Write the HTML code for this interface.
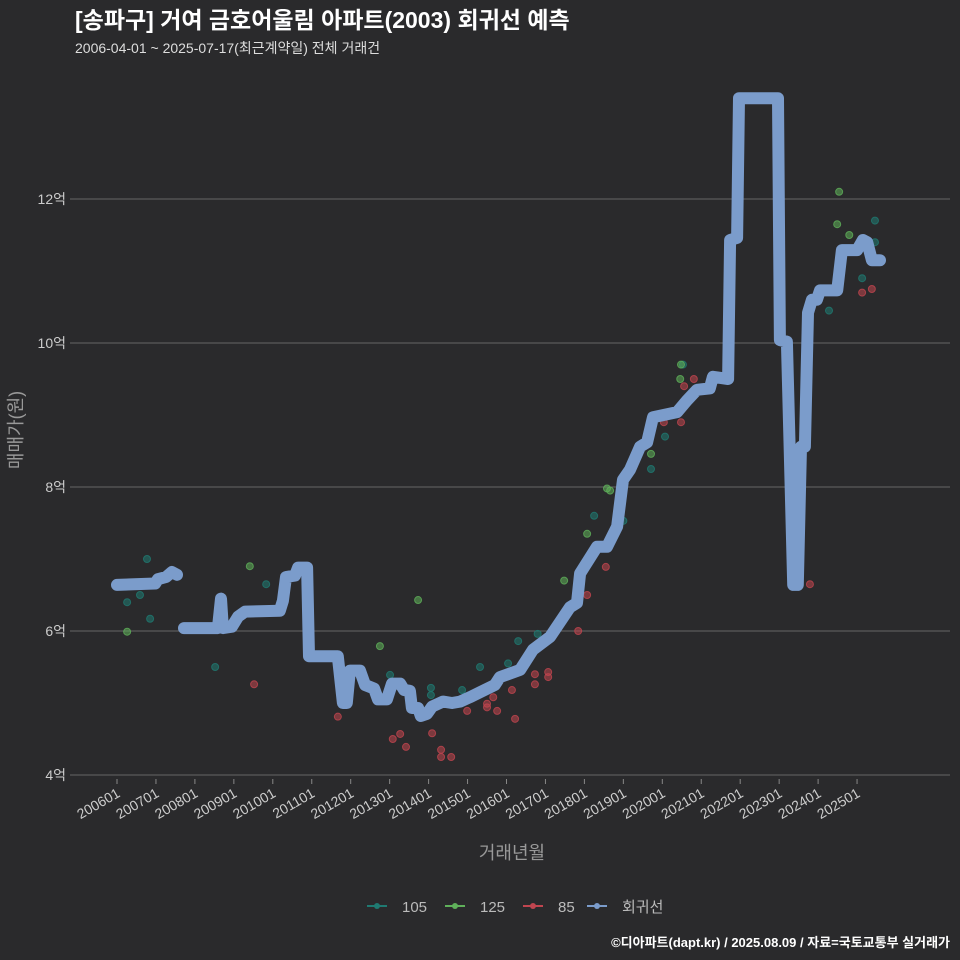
<!DOCTYPE html>
<html><head><meta charset="utf-8"><style>
body{margin:0;background:#2a2a2c;}
svg{display:block;font-family:"Liberation Sans","Noto Sans CJK KR",sans-serif;}
</style></head><body>
<svg width="960" height="960" viewBox="0 0 960 960">
<rect width="960" height="960" fill="#2a2a2c"/>
<text x="75" y="28" fill="#fff" font-size="23" font-weight="bold">[송파구] 거여 금호어울림 아파트(2003) 회귀선 예측</text>
<text x="75" y="53" fill="#ddd" font-size="14">2006-04-01 ~ 2025-07-17(최근계약일) 전체 거래건</text>
<g id="grid"></g><g id="yt"></g><g id="xt"></g><g id="dots"></g><g id="line"></g>
<text transform="translate(22,430) rotate(-90)" text-anchor="middle" fill="#999" font-size="18">매매가(원)</text>
<text x="512" y="859" text-anchor="middle" fill="#999" font-size="18">거래년월</text>
<g id="legend"></g>
<text x="950" y="947" text-anchor="end" fill="#fff" font-size="13" font-weight="bold">©디아파트(dapt.kr) / 2025.08.09 / 자료=국토교통부 실거래가</text>
</svg>
<script>
const yTicks=[4,6,8,10,12];
const xTickLabels=["200601","200701","200801","200901","201001","201101","201201","201301","201401","201501","201601","201701","201801","201901","202001","202101","202201","202301","202401","202501"];
const lineYears=[2006.0,2006.98,2007.05,2007.26,2007.41,2007.54,null,2007.72,2008.59,2008.67,2008.72,2008.95,2009.11,2009.29,2010.18,2010.26,2010.34,2010.57,2010.65,2010.88,2010.93,2011.67,2011.8,2011.9,2011.98,2012.24,2012.37,2012.6,2012.7,2012.93,2013.06,2013.27,2013.37,2013.52,2013.57,2013.73,2013.8,2013.96,2014.09,2014.37,2014.6,2014.81,2015.06,2015.32,2015.7,2015.83,2016.35,2016.68,2017.12,2017.63,2017.81,2017.89,2018.32,2018.58,2018.84,2018.99,2019.17,2019.43,2019.61,2019.76,2020.38,2020.63,2020.89,2021.22,2021.3,2021.69,2021.74,2021.92,2021.97,2022.97,2023.02,2023.2,2023.36,2023.48,2023.56,2023.66,2023.74,2023.84,2023.97,2024.05,2024.49,2024.61,2025.0,2025.15,2025.26,2025.38,2025.59];
const lineValues=[6.64,6.66,6.72,6.75,6.82,6.78,null,6.04,6.04,6.45,6.04,6.06,6.2,6.27,6.28,6.42,6.75,6.77,6.88,6.88,5.65,5.65,5.0,5.0,5.45,5.45,5.25,5.2,5.05,5.05,5.27,5.27,5.18,5.17,4.93,4.93,4.82,4.85,4.95,5.02,5.0,5.02,5.08,5.15,5.25,5.36,5.46,5.74,5.92,6.33,6.39,6.8,7.17,7.17,7.45,8.1,8.24,8.56,8.62,8.97,9.04,9.2,9.35,9.37,9.53,9.5,11.43,11.46,13.4,13.4,10.04,10.02,6.64,6.64,8.56,8.56,10.42,10.6,10.6,10.73,10.73,11.29,11.29,11.43,11.4,11.15,11.15];
const s105Years=[2006.26,2006.59,2006.77,2006.85,2008.52,2009.83,2013.01,2014.06,2014.06,2015.32,2014.86,2016.04,2016.3,2016.8,2017.63,2018.25,2018.58,2019.71,2020.07,2020.53,2024.28,2025.13,2025.46,2025.46,2019.0];
const s105Values=[6.4,6.5,7.0,6.17,5.5,6.65,5.39,5.21,5.11,5.5,5.18,5.55,5.86,5.96,6.31,7.6,7.22,8.25,8.7,9.7,10.45,10.9,11.7,11.4,7.53];
const s125Years=[2006.26,2009.41,2012.75,2013.73,2017.48,2018.07,2018.58,2018.66,2019.71,2020.46,2020.48,2024.49,2024.54,2024.8];
const s125Values=[5.99,6.9,5.79,6.43,6.7,7.35,7.98,7.95,8.46,9.5,9.7,11.65,12.1,11.5];
const s85Years=[2009.52,2011.67,2013.08,2013.27,2013.42,2014.09,2014.32,2014.32,2014.58,2014.99,2015.5,2015.5,2015.76,2015.66,2016.14,2016.22,2016.73,2016.73,2017.07,2017.07,2017.84,2018.07,2018.55,2020.04,2020.48,2020.56,2020.81,2023.79,2025.13,2025.38];
const s85Values=[5.26,4.81,4.5,4.57,4.39,4.58,4.35,4.25,4.25,4.89,4.99,4.94,4.89,5.08,5.18,4.78,5.4,5.26,5.43,5.36,6.0,6.5,6.89,8.9,8.9,9.4,9.5,6.65,10.7,10.75];
const NS="http://www.w3.org/2000/svg";
const xS=y=>117+(y-2006)*38.95;
const yS=v=>775-(v-4)*72;
function mk(t,a,p){const e=document.createElementNS(NS,t);for(const k in a)e.setAttribute(k,a[k]);p.appendChild(e);return e;}
const grid=document.getElementById('grid'),yt=document.getElementById('yt'),xt=document.getElementById('xt');
yTicks.forEach(v=>{
 const l=mk('line',{x1:70,x2:950,y1:yS(v),y2:yS(v),stroke:'#666','stroke-width':1},grid);
 
 
 const t=mk('text',{x:66,y:yS(v)+5,'text-anchor':'end',fill:'#ccc','font-size':14},yt);
 t.textContent=v+'억';
 
 
});
xTickLabels.forEach((lab,i)=>{
 const x=xS(2006+i);
 const tk=mk('line',{x1:x,x2:x,y1:779,y2:784,stroke:'#888'},xt);
 
 
 const t=mk('text',{x:x+4,y:796,'text-anchor':'end',fill:'#ccc','font-size':14,transform:`rotate(-30 ${x+4} 796)`},xt);
 t.textContent=lab;
 
 
});
const dots=document.getElementById('dots');
function scat(ys,vs,c,name){ys.forEach((y,i)=>{
 const d=mk('circle',{cx:xS(y),cy:yS(vs[i]),r:3.5,fill:c,'fill-opacity':0.55,stroke:c,'stroke-opacity':0.8},dots);
 
 
});}
scat(s105Years,s105Values,'#1f7a72','point-105');
scat(s125Years,s125Values,'#5fb05a','point-125');
scat(s85Years,s85Values,'#c0454f','point-85');
let d='',pen=false;
lineYears.forEach((y,i)=>{if(y===null){pen=false;return;}d+=(pen?'L':'M')+xS(y).toFixed(1)+','+yS(lineValues[i]).toFixed(1);pen=true;});
const ln=mk('path',{d:d,fill:'none',stroke:'#7b9ccb','stroke-width':12,'stroke-linejoin':'round','stroke-linecap':'round'},document.getElementById('line'));


const leg=document.getElementById('legend');
[['105','#1f7a72',367],['125','#5fb05a',445],['85','#c0454f',523],['회귀선','#7b9ccb',587]].forEach(e=>{
 const g=mk('g',{},leg);
 
 
 mk('line',{x1:e[2],x2:e[2]+20,y1:906,y2:906,stroke:e[1],'stroke-width':2},g);
 mk('circle',{cx:e[2]+10,cy:906,r:3,fill:e[1]},g);
 const t=mk('text',{x:e[2]+35,y:912,fill:'#bbb','font-size':15},g);
 t.textContent=e[0];
});
</script>
</body></html>
